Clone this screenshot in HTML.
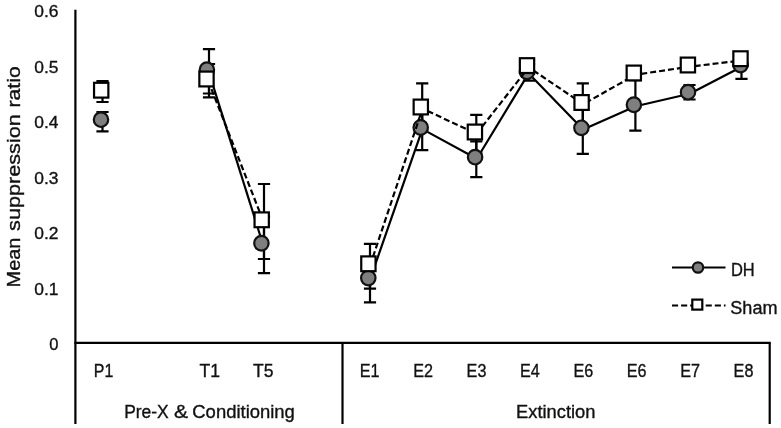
<!DOCTYPE html>
<html lang="en"><head><meta charset="utf-8"><title>Mean suppression ratio chart</title>
<style>html,body{margin:0;padding:0;background:#fff}svg{display:block}text{font-family:"Liberation Sans",sans-serif;fill:#111;stroke:#111;stroke-width:0.35px}</style></head><body>
<svg width="781" height="428" viewBox="0 0 781 428">
<rect width="781" height="428" fill="#fff"/>
<g stroke="#000" stroke-width="2.2" fill="none" stroke-linecap="butt">
<line x1="75.4" y1="9.7" x2="75.4" y2="424"/>
<line x1="74.4" y1="342.8" x2="770.7" y2="342.8"/>
<line x1="342.5" y1="342.8" x2="342.5" y2="424"/>
<line x1="769.7" y1="342.8" x2="769.7" y2="424"/>
</g>
<g stroke="#000" stroke-width="2.2" fill="none">
<path d="M102.5 112V131.3M96.4 112H108.6M96.4 131.3H108.6"/>
<path d="M209 49.2V93.5M202.9 49.2H215.1M202.9 93.5H215.1"/>
<path d="M264 216.6V273.2M257.9 216.6H270.1M257.9 273.2H270.1"/>
<path d="M370.0 257V302.3M363.9 257H376.1M363.9 302.3H376.1"/>
<path d="M422.2 107.8V150.1M416.09999999999997 107.8H428.3M416.09999999999997 150.1H428.3"/>
<path d="M476.3 141.3V177.2M470.2 141.3H482.40000000000003M470.2 177.2H482.40000000000003"/>
<path d="M529 64V80.7M522.9 64H535.1M522.9 80.7H535.1"/>
<path d="M582.8 105V153.8M576.6999999999999 105H588.9M576.6999999999999 153.8H588.9"/>
<path d="M635.4 80.2V130.7M629.3 80.2H641.5M629.3 130.7H641.5"/>
<path d="M689.5 85V99.5M683.4 85H695.6M683.4 99.5H695.6"/>
<path d="M741.5 55V78.8M735.4 55H747.6M735.4 78.8H747.6"/>
<path d="M102.5 81.1V102.0M96.4 81.1H108.6M96.4 102.0H108.6"/>
<path d="M209 64V97.3M202.9 64H215.1M202.9 97.3H215.1"/>
<path d="M264 184V259M257.9 184H270.1M257.9 259H270.1"/>
<path d="M370.0 243.9V288.6M363.9 243.9H376.1M363.9 288.6H376.1"/>
<path d="M422.2 83.3V130M416.09999999999997 83.3H428.3M416.09999999999997 130H428.3"/>
<path d="M476.3 114.9V152.7M470.2 114.9H482.40000000000003M470.2 152.7H482.40000000000003"/>
<path d="M529 60V74M522.9 60H535.1M522.9 74H535.1"/>
<path d="M582.8 83.4V125.2M576.6999999999999 83.4H588.9M576.6999999999999 125.2H588.9"/>
<path d="M635.4 67V80M629.3 67H641.5M629.3 80H641.5"/>
<path d="M689.5 60V70M683.4 60H695.6M683.4 70H695.6"/>
<path d="M741.5 54V66M735.4 54H747.6M735.4 66H747.6"/>
</g>
<g stroke="#000" stroke-width="2.2" fill="none" stroke-linejoin="round">
<polyline points="208.6,71.3 263.1,244.8"/>
<polyline points="370.0,279.6 422.4,129.1 476.8,158.7 528.7,73.4 583.1,129.4 635.6,106.3 689.7,93.7 742.2,66.5"/>
</g>
<g stroke="#111" stroke-width="2.2" fill="#7f7f7f">
<ellipse cx="101.0" cy="119.65" rx="7.2" ry="7.35"/>
<ellipse cx="206.9" cy="69.75" rx="7.2" ry="7.35"/>
<ellipse cx="261.4" cy="243.25" rx="7.2" ry="7.35"/>
<ellipse cx="368.3" cy="278.05" rx="7.2" ry="7.35"/>
<ellipse cx="420.7" cy="127.55" rx="7.2" ry="7.35"/>
<ellipse cx="475.1" cy="157.15" rx="7.2" ry="7.35"/>
<ellipse cx="527.0" cy="71.85" rx="7.2" ry="7.35"/>
<ellipse cx="581.4" cy="127.85" rx="7.2" ry="7.35"/>
<ellipse cx="633.9" cy="104.75" rx="7.2" ry="7.35"/>
<ellipse cx="688.0" cy="92.15" rx="7.2" ry="7.35"/>
<ellipse cx="740.5" cy="64.95" rx="7.2" ry="7.35"/>
</g>
<g stroke="#000" stroke-width="2.2" fill="none" stroke-dasharray="6 3" stroke-linejoin="round">
<polyline points="208.2,80.7 263.4,221.5"/>
<polyline points="370.1,265.5 422.5,108.7 476.6,133.7 528.7,67.3 583.3,104.2 635.5,74.7 689.6,66.7 742.2,60.4"/>
</g>
<g stroke="#000" stroke-width="2.2" fill="#fff">
<rect x="94.05" y="82.80" width="14.3" height="14.8"/>
<rect x="199.35" y="71.60" width="14.3" height="14.8"/>
<rect x="254.55" y="212.40" width="14.3" height="14.8"/>
<rect x="361.25" y="256.40" width="14.3" height="14.8"/>
<rect x="413.65" y="99.60" width="14.3" height="14.8"/>
<rect x="467.75" y="124.60" width="14.3" height="14.8"/>
<rect x="519.85" y="58.20" width="14.3" height="14.8"/>
<rect x="574.45" y="95.10" width="14.3" height="14.8"/>
<rect x="626.65" y="65.60" width="14.3" height="14.8"/>
<rect x="680.75" y="57.60" width="14.3" height="14.8"/>
<rect x="733.35" y="51.30" width="14.3" height="14.8"/>
</g>
<line x1="672" y1="267.5" x2="725.5" y2="267.5" stroke="#000" stroke-width="2.2"/>
<circle cx="698" cy="267.5" r="5.2" stroke="#111" stroke-width="2.2" fill="#7f7f7f"/>
<path d="M672 305.5H692M705.7 305.5H725.5" stroke="#000" stroke-width="2.2" stroke-dasharray="6.1 3" fill="none"/>
<rect x="692.3" y="299.6" width="10" height="10" stroke="#000" stroke-width="2.2" fill="#fff"/>
<text x="730.9" y="275.8" font-size="18" textLength="23.8" lengthAdjust="spacingAndGlyphs">DH</text>
<text x="730.3" y="313.8" font-size="18" textLength="47.2" lengthAdjust="spacingAndGlyphs">Sham</text>
<text x="34.3" y="17.1" font-size="17.4" textLength="24.2" lengthAdjust="spacingAndGlyphs">0.6</text>
<text x="34.3" y="72.6" font-size="17.4" textLength="24.2" lengthAdjust="spacingAndGlyphs">0.5</text>
<text x="34.3" y="128.1" font-size="17.4" textLength="24.2" lengthAdjust="spacingAndGlyphs">0.4</text>
<text x="34.3" y="183.7" font-size="17.4" textLength="24.2" lengthAdjust="spacingAndGlyphs">0.3</text>
<text x="34.3" y="239.2" font-size="17.4" textLength="24.2" lengthAdjust="spacingAndGlyphs">0.2</text>
<text x="34.3" y="294.7" font-size="17.4" textLength="24.2" lengthAdjust="spacingAndGlyphs">0.1</text>
<text x="49.3" y="350.2" font-size="17.4" textLength="9.2" lengthAdjust="spacingAndGlyphs">0</text>
<text x="93.8" y="376.7" font-size="18" textLength="19.5" lengthAdjust="spacingAndGlyphs">P1</text>
<text x="199.6" y="376.7" font-size="18" textLength="20.5" lengthAdjust="spacingAndGlyphs">T1</text>
<text x="253.0" y="376.7" font-size="18" textLength="20.5" lengthAdjust="spacingAndGlyphs">T5</text>
<text x="359.7" y="376.7" font-size="18" textLength="19.8" lengthAdjust="spacingAndGlyphs">E1</text>
<text x="413.2" y="376.7" font-size="18" textLength="19.8" lengthAdjust="spacingAndGlyphs">E2</text>
<text x="466.6" y="376.7" font-size="18" textLength="19.8" lengthAdjust="spacingAndGlyphs">E3</text>
<text x="520.0" y="376.7" font-size="18" textLength="19.8" lengthAdjust="spacingAndGlyphs">E4</text>
<text x="573.4" y="376.7" font-size="18" textLength="19.8" lengthAdjust="spacingAndGlyphs">E6</text>
<text x="626.8" y="376.7" font-size="18" textLength="19.8" lengthAdjust="spacingAndGlyphs">E6</text>
<text x="680.2" y="376.7" font-size="18" textLength="19.8" lengthAdjust="spacingAndGlyphs">E7</text>
<text x="733.6" y="376.7" font-size="18" textLength="19.8" lengthAdjust="spacingAndGlyphs">E8</text>
<text y="418.0" font-size="18.2"><tspan x="124.2" textLength="44.5" lengthAdjust="spacingAndGlyphs">Pre-X</tspan> <tspan x="174.0" textLength="14.0" lengthAdjust="spacingAndGlyphs">&amp;</tspan> <tspan x="192.3" textLength="102.6" lengthAdjust="spacingAndGlyphs">Conditioning</tspan></text>
<text x="516.1" y="418.4" font-size="18.3" textLength="79.4" lengthAdjust="spacingAndGlyphs">Extinction</text>
<text transform="translate(20.2 287.4) rotate(-90)" font-size="18.4"><tspan x="0.0" textLength="49.8" lengthAdjust="spacingAndGlyphs">Mean</tspan> <tspan x="56.5" textLength="116.7" lengthAdjust="spacingAndGlyphs">suppression</tspan> <tspan x="179.9" textLength="41.2" lengthAdjust="spacingAndGlyphs">ratio</tspan></text>
</svg></body></html>
